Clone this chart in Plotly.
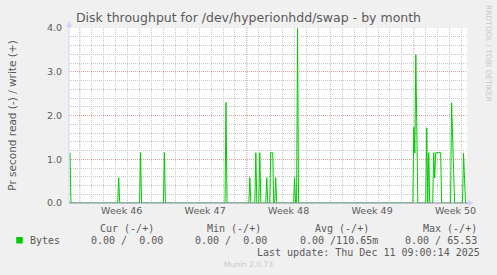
import plotly.graph_objects as go

# ---- data (hours since Mon 2025-11-10 00:00 = start of week 46; 2-hour samples) ----
x_start, x_end = -22, 779
spike_hours = [-20, 78, 122, 170, 294, 342, 354, 362, 376, 384, 386, 388, 394,
               432, 438, 672, 674, 676, 678, 698, 702, 712, 714, 716, 718, 720,
               722, 724, 726, 748, 750, 752, 772, 774]
spike_values = [1.15, 0.58, 1.15, 1.15, 2.30, 0.58, 1.15, 1.15, 0.58, 1.15, 1.15, 1.15, 0.58,
                0.58, 3.99, 1.73, 1.14, 3.39, 1.60, 1.72, 1.15, 1.15, 0.57, 1.15, 1.15, 1.15,
                1.15, 1.15, 1.15, 2.29, 1.50, 0.75, 1.14, 0.55]

week_starts = [0, 168, 336, 504, 672]
week_mids = [84, 252, 420, 588, 756]
week_labels = ["Week 46", "Week 47", "Week 48", "Week 49", "Week 50"]
y_ticks = [0, 1, 2, 3, 4]
y_ticktext = ["0.0", "1.0", "2.0", "3.0", "4.0"]

legend_cols = ["Cur (-/+)", "Min (-/+)", "Avg (-/+)", "Max (-/+)"]
legend_vals = ["0.00 /  0.00", "0.00 /  0.00", "0.00 /110.65m", "0.00 / 65.53"]
series_name = "Bytes"
title_text = "Disk throughput for /dev/hyperionhdd/swap - by month"
ytitle = "Pr second read (-) / write (+)"
last_update = "Last update: Thu Dec 11 09:00:14 2025"
footer = "Munin 2.0.73"
side_text = "RRDTOOL / TOBI OETIKER"

# 2-hour sample series (zero where no spike)
lookup = dict(zip(spike_hours, spike_values))
xs = list(range(x_start + 2, x_end, 2))
ys = [lookup.get(h, 0.0) for h in xs]

# ---- layout geometry ----
W, H = 497, 275
L, R, T, B = 67, 30, 28, 72
PW, PH = W - L - R, H - T - B


def px(x):
    return (x - L) / PW


def py(y):
    return (H - B - y) / PH


GREEN = "#00cc00"
TXT = "#5a5a5a"
MONO = "DejaVu Sans Mono"
MGRID = "#eb9a9a"
GRID = "#c8c8c8"
AXIS = "#cfd6f8"
DOT = "1px,1px"

fig = go.Figure()
fig.add_trace(go.Scatter(x=xs, y=ys, mode="lines", line=dict(color=GREEN, width=1),
                         hoverinfo="skip", showlegend=False))

shapes = []
# red dotted week boundaries
for w in week_starts:
    shapes.append(dict(type="line", xref="x", yref="paper", x0=w, x1=w, y0=0, y1=1,
                       line=dict(color=MGRID, width=1, dash=DOT), layer="below"))
# axis lines and arrows
shapes.append(dict(type="line", xref="paper", yref="paper", x0=px(67), x1=px(67), y0=0, y1=py(26),
                   line=dict(color=AXIS, width=1)))
shapes.append(dict(type="path", xref="paper", yref="paper",
                   path=f"M {px(64)},{py(27)} L {px(70)},{py(27)} L {px(67)},{py(21)} Z",
                   fillcolor=AXIS, line=dict(width=0)))
shapes.append(dict(type="line", xref="paper", yref="paper", x0=0, x1=px(468), y0=0, y1=0,
                   line=dict(color="#8a8aa8", width=1)))
shapes.append(dict(type="path", xref="paper", yref="paper",
                   path=f"M {px(468)},{py(200)} L {px(468)},{py(206)} L {px(474)},{py(203)} Z",
                   fillcolor=AXIS, line=dict(width=0)))
# legend colour box
shapes.append(dict(type="rect", xref="paper", yref="paper", x0=px(14), x1=px(20.5),
                   y0=py(243.5), y1=py(237), fillcolor=GREEN, line=dict(width=0)))

ann = []
col_centers = [125, 233, 341.5, 449.5]
val_centers = [125, 230, 338.5, 440.5]
for c, t in zip(col_centers, legend_cols):
    ann.append(dict(x=px(c), y=py(228), text=t))
for c, t in zip(val_centers, legend_vals):
    ann.append(dict(x=px(c), y=py(240), text=t.replace(" ", "&nbsp;")))
ann.append(dict(x=px(26), y=py(240), text=series_name, xanchor="left"))
ann.append(dict(x=px(482.5), y=py(252), text=last_update, xanchor="right"))
annotations = []
for a in ann:
    d = dict(xref="paper", yref="paper", showarrow=False, xanchor="center", yanchor="middle",
             font=dict(family=MONO, size=10, color=TXT))
    d.update(a)
    annotations.append(d)
annotations.append(dict(xref="paper", yref="paper", x=px(247.5), y=py(264), text=footer,
                        xanchor="center", yanchor="middle", showarrow=False,
                        font=dict(family="DejaVu Sans", size=7.5, color="#c8c8c8")))
annotations.append(dict(xref="paper", yref="paper", x=px(488.5), y=py(53.5), text=side_text,
                        xanchor="center", yanchor="middle", textangle=90, showarrow=False,
                        font=dict(family="DejaVu Sans", size=7.5, color="#c8c8c8")))

fig.update_layout(
    width=W, height=H, autosize=False,
    margin=dict(l=L, r=R, t=T, b=B),
    paper_bgcolor="#f0f0f0", plot_bgcolor="#ffffff",
    font=dict(family="DejaVu Sans", size=9.5, color=TXT),
    showlegend=False,
    title=dict(text=title_text, x=0.5, xref="container", xanchor="center",
               y=1 - 18 / H, yref="container", yanchor="middle",
               font=dict(family="DejaVu Sans", size=12.5, color=TXT)),
    xaxis=dict(range=[x_start, x_end], tickvals=week_mids, ticktext=week_labels,
               showgrid=False, zeroline=False, showline=False, ticks="",
               minor=dict(tick0=0, dtick=24, showgrid=True, gridcolor=GRID,
                          griddash=DOT, gridwidth=1, ticks=""),
               fixedrange=True),
    yaxis=dict(range=[0, 4], tickvals=y_ticks, ticktext=y_ticktext,
               showgrid=True, gridcolor=MGRID, griddash=DOT, gridwidth=1,
               minor=dict(dtick=0.2, tick0=0, showgrid=True, gridcolor=GRID,
                          griddash=DOT, gridwidth=1, ticks=""),
               zeroline=False, showline=False, ticks="", ticklabelstandoff=6,
               title=dict(text=ytitle, standoff=28, font=dict(size=10.5, color=TXT)),
               fixedrange=True),
    shapes=shapes,
    annotations=annotations,
)

fig.write_html("out.html")
